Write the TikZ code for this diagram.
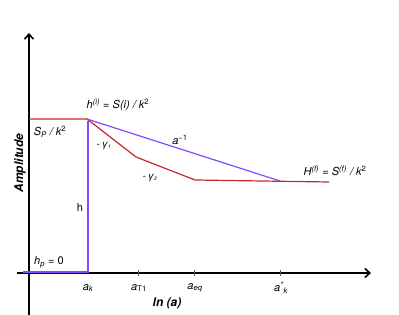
\documentclass[tikz,border=0pt]{standalone}
\usepackage{fontspec}
\setmainfont{TeX Gyre Heros}
\usetikzlibrary{arrows.meta}
\definecolor{cred}{RGB}{196,40,45}
\definecolor{cblue}{RGB}{132,72,255}
\begin{document}
\begin{tikzpicture}[x=1pt,y=-1pt,
  axis/.style={line width=1.6pt,black},
  redline/.style={cred,line width=1.2pt},
  blueline/.style={cblue,line width=1.2pt},
  lbl/.style={font=\fontsize{11}{12}\selectfont\itshape,inner sep=0pt},
  ulbl/.style={font=\fontsize{11}{12}\selectfont\upshape,inner sep=0pt},
  tlbl/.style={font=\fontsize{11}{12}\selectfont\itshape,inner sep=0pt},
  glbl/.style={font=\fontsize{10}{11}\selectfont\itshape,inner sep=0pt},
  blbl/.style={font=\fontsize{12}{13}\selectfont\bfseries\itshape,inner sep=0pt},
  tick/.style={line width=0.6pt,gray!70!black}]
\useasboundingbox (0,0) rectangle (399,315);
% coordinates
\coordinate (o) at (29,273);
\coordinate (ytop) at (29,33);
\coordinate (ybot) at (29,315);
\coordinate (xl) at (17,273);
\coordinate (xr) at (371,273);
\coordinate (p0) at (29,119);
\coordinate (pk) at (87,119);
\coordinate (r1) at (136,157);
\coordinate (r2) at (195,180);
\coordinate (r3) at (329,182);
\coordinate (b1) at (280,181);
\coordinate (bk) at (88,121);
\coordinate (bb) at (88,272);
\coordinate (bl) at (23,272);
% axes
\draw[axis] (ybot) -- (o);
\draw[axis,-{Straight Barb[length=5pt,width=9pt]}] (o) -- (ytop);
\draw[axis,-{Straight Barb[length=5pt,width=9pt]}] (xl) -- (xr);
% ticks
\foreach \x in {138,194,280}{
  \draw[tick] (\x,270) -- (\x,276);
}
% curves
\draw[redline] (p0) -- (pk) -- (r1) -- (r2) -- (r3);
\draw[blueline] (pk) -- (b1);
\draw[blueline] (bl) -- (bb) -- (bk);
% labels
\node[tlbl] (lak) at (88,288) {a\textsubscript{k}};
\node[tlbl] (lat) at (139,288) {a\textsubscript{\upshape T1}};
\node[tlbl] (laeq) at (195,288) {a\textsubscript{eq}};
\node[tlbl] (las) at (281,288) {a\textsuperscript{*}\textsubscript{k}};
\node[blbl] (lln) at (167,303) {ln (a)};
\node[blbl,rotate=90] (lamp) at (20,163) {Amplitude};
\node[lbl] (lhi) at (118,105) {h\textsuperscript{(i)}\upshape{} = \itshape S(i) / k\textsuperscript{\upshape 2}};
\node[lbl] (lsp) at (50,132) {S\textsubscript{P} / k\textsuperscript{\upshape 2}};
\node[lbl] (lam) at (180,140) {a\textsuperscript{\upshape −1}};
\node[glbl] (lg1) at (104,146) {-\,γ\textsubscript{\tiny 1}};
\node[glbl] (lg2) at (150,178) {-\,γ\textsubscript{\tiny 2}};
\node[lbl] (lhf) at (335,171) {H\textsuperscript{(f)}\upshape{} = \itshape S\textsuperscript{(f)} / k\textsuperscript{\upshape 2}};
\node[ulbl] (lh) at (80,207) {h};
\node[lbl] (lhp) at (49,262) {h\textsubscript{p}\upshape{} = 0};
\end{tikzpicture}
\end{document}
